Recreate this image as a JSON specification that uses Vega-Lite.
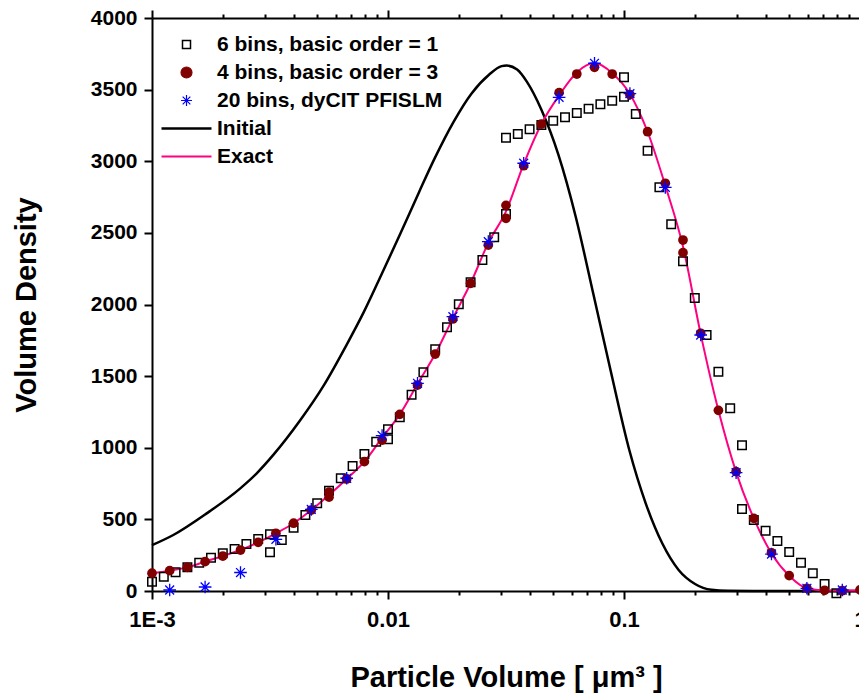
{
  "$schema": "https://vega.github.io/schema/vega-lite/v6.json",
  "width": 708,
  "height": 573,
  "autosize": {"type": "none"},
  "padding": {"left": 152, "top": 18, "right": 0, "bottom": 107},
  "background": "white",
  "config": {
    "view": {"stroke": null},
    "axis": {
      "domainColor": "black", "domainWidth": 2, "tickColor": "black", "tickWidth": 2,
      "labelFont": "Liberation Sans", "labelFontWeight": "bold", "labelColor": "black",
      "titleFont": "Liberation Sans", "titleFontWeight": "bold", "titleColor": "black",
      "grid": false
    }
  },
  "datasets": {
    "initial": [
      {"series": "Initial", "x": 0.001, "y": 320},
      {"series": "Initial", "x": 0.001231, "y": 391},
      {"series": "Initial", "x": 0.001705, "y": 542},
      {"series": "Initial", "x": 0.00236, "y": 715},
      {"series": "Initial", "x": 0.002772, "y": 820},
      {"series": "Initial", "x": 0.003266, "y": 950},
      {"series": "Initial", "x": 0.004238, "y": 1190},
      {"series": "Initial", "x": 0.00532, "y": 1430},
      {"series": "Initial", "x": 0.00666, "y": 1715},
      {"series": "Initial", "x": 0.007912, "y": 1950},
      {"series": "Initial", "x": 0.00948, "y": 2225},
      {"series": "Initial", "x": 0.011236, "y": 2488},
      {"series": "Initial", "x": 0.01355, "y": 2786},
      {"series": "Initial", "x": 0.015818, "y": 3025},
      {"series": "Initial", "x": 0.01899, "y": 3277},
      {"series": "Initial", "x": 0.02256, "y": 3472},
      {"series": "Initial", "x": 0.02679, "y": 3604},
      {"series": "Initial", "x": 0.03032, "y": 3664},
      {"series": "Initial", "x": 0.03181, "y": 3668},
      {"series": "Initial", "x": 0.03525, "y": 3640},
      {"series": "Initial", "x": 0.03880, "y": 3554},
      {"series": "Initial", "x": 0.04463, "y": 3361},
      {"series": "Initial", "x": 0.05271, "y": 3046},
      {"series": "Initial", "x": 0.06247, "y": 2611},
      {"series": "Initial", "x": 0.07403, "y": 2078},
      {"series": "Initial", "x": 0.0880, "y": 1530},
      {"series": "Initial", "x": 0.1053, "y": 984},
      {"series": "Initial", "x": 0.1236, "y": 612},
      {"series": "Initial", "x": 0.1452, "y": 333},
      {"series": "Initial", "x": 0.1704, "y": 147},
      {"series": "Initial", "x": 0.2000, "y": 49},
      {"series": "Initial", "x": 0.2350, "y": 8},
      {"series": "Initial", "x": 0.2750, "y": 1},
      {"series": "Initial", "x": 0.35, "y": 0},
      {"series": "Initial", "x": 1, "y": 0}
    ],
    "exact": [
      {"series": "Exact", "x": 0.001, "y": 124},
      {"series": "Exact", "x": 0.0011885, "y": 142},
      {"series": "Exact", "x": 0.0014125, "y": 165},
      {"series": "Exact", "x": 0.0016788, "y": 205},
      {"series": "Exact", "x": 0.0019953, "y": 244},
      {"series": "Exact", "x": 0.0023714, "y": 286},
      {"series": "Exact", "x": 0.0028184, "y": 340},
      {"series": "Exact", "x": 0.0033497, "y": 403},
      {"series": "Exact", "x": 0.0039811, "y": 473},
      {"series": "Exact", "x": 0.0047315, "y": 565},
      {"series": "Exact", "x": 0.0056234, "y": 670},
      {"series": "Exact", "x": 0.0066834, "y": 782},
      {"series": "Exact", "x": 0.0079433, "y": 903},
      {"series": "Exact", "x": 0.0094406, "y": 1070},
      {"series": "Exact", "x": 0.01122, "y": 1233},
      {"series": "Exact", "x": 0.013335, "y": 1445},
      {"series": "Exact", "x": 0.015849, "y": 1654},
      {"series": "Exact", "x": 0.018836, "y": 1905},
      {"series": "Exact", "x": 0.022387, "y": 2148},
      {"series": "Exact", "x": 0.026607, "y": 2430},
      {"series": "Exact", "x": 0.031623, "y": 2650},
      {"series": "Exact", "x": 0.037584, "y": 2980},
      {"series": "Exact", "x": 0.044668, "y": 3260},
      {"series": "Exact", "x": 0.053088, "y": 3460},
      {"series": "Exact", "x": 0.063096, "y": 3620},
      {"series": "Exact", "x": 0.074989, "y": 3685},
      {"series": "Exact", "x": 0.089125, "y": 3615},
      {"series": "Exact", "x": 0.10593, "y": 3470},
      {"series": "Exact", "x": 0.12589, "y": 3206},
      {"series": "Exact", "x": 0.14962, "y": 2830},
      {"series": "Exact", "x": 0.17783, "y": 2405},
      {"series": "Exact", "x": 0.21135, "y": 1793},
      {"series": "Exact", "x": 0.25119, "y": 1261},
      {"series": "Exact", "x": 0.29854, "y": 830},
      {"series": "Exact", "x": 0.3548, "y": 507},
      {"series": "Exact", "x": 0.4217, "y": 262},
      {"series": "Exact", "x": 0.50119, "y": 107},
      {"series": "Exact", "x": 0.59566, "y": 19},
      {"series": "Exact", "x": 0.70795, "y": 4},
      {"series": "Exact", "x": 0.8414, "y": 3},
      {"series": "Exact", "x": 1, "y": 3}
    ],
    "squares": [
      {"series": "6 bins, basic order = 1", "x": 0.001, "y": 65},
      {"series": "6 bins, basic order = 1", "x": 0.001122, "y": 100},
      {"series": "6 bins, basic order = 1", "x": 0.0012589, "y": 131},
      {"series": "6 bins, basic order = 1", "x": 0.0014125, "y": 165},
      {"series": "6 bins, basic order = 1", "x": 0.0015849, "y": 198},
      {"series": "6 bins, basic order = 1", "x": 0.0017783, "y": 232},
      {"series": "6 bins, basic order = 1", "x": 0.0019953, "y": 263},
      {"series": "6 bins, basic order = 1", "x": 0.0022387, "y": 293},
      {"series": "6 bins, basic order = 1", "x": 0.0025119, "y": 328},
      {"series": "6 bins, basic order = 1", "x": 0.0028184, "y": 363},
      {"series": "6 bins, basic order = 1", "x": 0.0031623, "y": 396},
      {"series": "6 bins, basic order = 1", "x": 0.0031623, "y": 270},
      {"series": "6 bins, basic order = 1", "x": 0.0035481, "y": 356},
      {"series": "6 bins, basic order = 1", "x": 0.0039811, "y": 442},
      {"series": "6 bins, basic order = 1", "x": 0.0044668, "y": 531},
      {"series": "6 bins, basic order = 1", "x": 0.0050119, "y": 612},
      {"series": "6 bins, basic order = 1", "x": 0.0056234, "y": 700},
      {"series": "6 bins, basic order = 1", "x": 0.0063096, "y": 787},
      {"series": "6 bins, basic order = 1", "x": 0.0070795, "y": 873},
      {"series": "6 bins, basic order = 1", "x": 0.0079433, "y": 956},
      {"series": "6 bins, basic order = 1", "x": 0.0089125, "y": 1042},
      {"series": "6 bins, basic order = 1", "x": 0.01, "y": 1129},
      {"series": "6 bins, basic order = 1", "x": 0.01, "y": 1059},
      {"series": "6 bins, basic order = 1", "x": 0.01122, "y": 1213},
      {"series": "6 bins, basic order = 1", "x": 0.012589, "y": 1370},
      {"series": "6 bins, basic order = 1", "x": 0.014125, "y": 1527},
      {"series": "6 bins, basic order = 1", "x": 0.015849, "y": 1687},
      {"series": "6 bins, basic order = 1", "x": 0.017783, "y": 1841},
      {"series": "6 bins, basic order = 1", "x": 0.019953, "y": 2001},
      {"series": "6 bins, basic order = 1", "x": 0.022387, "y": 2156},
      {"series": "6 bins, basic order = 1", "x": 0.025119, "y": 2311},
      {"series": "6 bins, basic order = 1", "x": 0.028184, "y": 2469},
      {"series": "6 bins, basic order = 1", "x": 0.031623, "y": 2632},
      {"series": "6 bins, basic order = 1", "x": 0.031623, "y": 3164},
      {"series": "6 bins, basic order = 1", "x": 0.035481, "y": 3190},
      {"series": "6 bins, basic order = 1", "x": 0.039811, "y": 3223},
      {"series": "6 bins, basic order = 1", "x": 0.044668, "y": 3253},
      {"series": "6 bins, basic order = 1", "x": 0.050119, "y": 3283},
      {"series": "6 bins, basic order = 1", "x": 0.056234, "y": 3307},
      {"series": "6 bins, basic order = 1", "x": 0.063096, "y": 3337},
      {"series": "6 bins, basic order = 1", "x": 0.070795, "y": 3367},
      {"series": "6 bins, basic order = 1", "x": 0.079433, "y": 3398},
      {"series": "6 bins, basic order = 1", "x": 0.089125, "y": 3423},
      {"series": "6 bins, basic order = 1", "x": 0.1, "y": 3451},
      {"series": "6 bins, basic order = 1", "x": 0.1, "y": 3586},
      {"series": "6 bins, basic order = 1", "x": 0.1122, "y": 3330},
      {"series": "6 bins, basic order = 1", "x": 0.12589, "y": 3074},
      {"series": "6 bins, basic order = 1", "x": 0.14125, "y": 2818},
      {"series": "6 bins, basic order = 1", "x": 0.15849, "y": 2560},
      {"series": "6 bins, basic order = 1", "x": 0.17783, "y": 2302},
      {"series": "6 bins, basic order = 1", "x": 0.19953, "y": 2045},
      {"series": "6 bins, basic order = 1", "x": 0.22387, "y": 1787},
      {"series": "6 bins, basic order = 1", "x": 0.25119, "y": 1531},
      {"series": "6 bins, basic order = 1", "x": 0.28184, "y": 1275},
      {"series": "6 bins, basic order = 1", "x": 0.31623, "y": 1017},
      {"series": "6 bins, basic order = 1", "x": 0.31623, "y": 572},
      {"series": "6 bins, basic order = 1", "x": 0.35481, "y": 496},
      {"series": "6 bins, basic order = 1", "x": 0.39811, "y": 421},
      {"series": "6 bins, basic order = 1", "x": 0.44668, "y": 349},
      {"series": "6 bins, basic order = 1", "x": 0.50119, "y": 272},
      {"series": "6 bins, basic order = 1", "x": 0.56234, "y": 198},
      {"series": "6 bins, basic order = 1", "x": 0.63096, "y": 124},
      {"series": "6 bins, basic order = 1", "x": 0.70795, "y": 49},
      {"series": "6 bins, basic order = 1", "x": 0.7943, "y": -15}
    ],
    "circles": [
      {"series": "4 bins, basic order = 3", "x": 0.001, "y": 124},
      {"series": "4 bins, basic order = 3", "x": 0.0011885, "y": 142},
      {"series": "4 bins, basic order = 3", "x": 0.0014125, "y": 165},
      {"series": "4 bins, basic order = 3", "x": 0.0016788, "y": 205},
      {"series": "4 bins, basic order = 3", "x": 0.0019953, "y": 244},
      {"series": "4 bins, basic order = 3", "x": 0.0023714, "y": 286},
      {"series": "4 bins, basic order = 3", "x": 0.0028184, "y": 340},
      {"series": "4 bins, basic order = 3", "x": 0.0033497, "y": 403},
      {"series": "4 bins, basic order = 3", "x": 0.0039811, "y": 473},
      {"series": "4 bins, basic order = 3", "x": 0.0047315, "y": 565},
      {"series": "4 bins, basic order = 3", "x": 0.0056234, "y": 690},
      {"series": "4 bins, basic order = 3", "x": 0.0056234, "y": 655},
      {"series": "4 bins, basic order = 3", "x": 0.0066834, "y": 782},
      {"series": "4 bins, basic order = 3", "x": 0.0079433, "y": 903},
      {"series": "4 bins, basic order = 3", "x": 0.0094406, "y": 1054},
      {"series": "4 bins, basic order = 3", "x": 0.01122, "y": 1233},
      {"series": "4 bins, basic order = 3", "x": 0.013335, "y": 1438},
      {"series": "4 bins, basic order = 3", "x": 0.015849, "y": 1654},
      {"series": "4 bins, basic order = 3", "x": 0.018836, "y": 1899},
      {"series": "4 bins, basic order = 3", "x": 0.022387, "y": 2148},
      {"series": "4 bins, basic order = 3", "x": 0.026607, "y": 2415},
      {"series": "4 bins, basic order = 3", "x": 0.031623, "y": 2692},
      {"series": "4 bins, basic order = 3", "x": 0.031623, "y": 2602},
      {"series": "4 bins, basic order = 3", "x": 0.037584, "y": 2969},
      {"series": "4 bins, basic order = 3", "x": 0.044668, "y": 3260},
      {"series": "4 bins, basic order = 3", "x": 0.053088, "y": 3479},
      {"series": "4 bins, basic order = 3", "x": 0.063096, "y": 3609},
      {"series": "4 bins, basic order = 3", "x": 0.074989, "y": 3656},
      {"series": "4 bins, basic order = 3", "x": 0.089125, "y": 3609},
      {"series": "4 bins, basic order = 3", "x": 0.10593, "y": 3465},
      {"series": "4 bins, basic order = 3", "x": 0.12589, "y": 3206},
      {"series": "4 bins, basic order = 3", "x": 0.14962, "y": 2846},
      {"series": "4 bins, basic order = 3", "x": 0.17783, "y": 2450},
      {"series": "4 bins, basic order = 3", "x": 0.17783, "y": 2362},
      {"series": "4 bins, basic order = 3", "x": 0.21135, "y": 1799},
      {"series": "4 bins, basic order = 3", "x": 0.25119, "y": 1261},
      {"series": "4 bins, basic order = 3", "x": 0.29854, "y": 833},
      {"series": "4 bins, basic order = 3", "x": 0.3548, "y": 507},
      {"series": "4 bins, basic order = 3", "x": 0.4217, "y": 267},
      {"series": "4 bins, basic order = 3", "x": 0.50119, "y": 107},
      {"series": "4 bins, basic order = 3", "x": 0.59566, "y": 19},
      {"series": "4 bins, basic order = 3", "x": 0.70795, "y": 5},
      {"series": "4 bins, basic order = 3", "x": 0.8414, "y": 2},
      {"series": "4 bins, basic order = 3", "x": 1, "y": 8}
    ],
    "stars": [
      {"series": "20 bins, dyCIT PFISLM", "x": 0.0011885, "y": 7},
      {"series": "20 bins, dyCIT PFISLM", "x": 0.0016788, "y": 28},
      {"series": "20 bins, dyCIT PFISLM", "x": 0.0023714, "y": 129},
      {"series": "20 bins, dyCIT PFISLM", "x": 0.0033497, "y": 361},
      {"series": "20 bins, dyCIT PFISLM", "x": 0.0047315, "y": 570},
      {"series": "20 bins, dyCIT PFISLM", "x": 0.0066834, "y": 787},
      {"series": "20 bins, dyCIT PFISLM", "x": 0.0094406, "y": 1085},
      {"series": "20 bins, dyCIT PFISLM", "x": 0.013335, "y": 1450},
      {"series": "20 bins, dyCIT PFISLM", "x": 0.018836, "y": 1915},
      {"series": "20 bins, dyCIT PFISLM", "x": 0.026607, "y": 2439},
      {"series": "20 bins, dyCIT PFISLM", "x": 0.037584, "y": 2986},
      {"series": "20 bins, dyCIT PFISLM", "x": 0.053088, "y": 3446},
      {"series": "20 bins, dyCIT PFISLM", "x": 0.074989, "y": 3684},
      {"series": "20 bins, dyCIT PFISLM", "x": 0.10593, "y": 3472},
      {"series": "20 bins, dyCIT PFISLM", "x": 0.14962, "y": 2818},
      {"series": "20 bins, dyCIT PFISLM", "x": 0.21135, "y": 1787},
      {"series": "20 bins, dyCIT PFISLM", "x": 0.29854, "y": 826},
      {"series": "20 bins, dyCIT PFISLM", "x": 0.4217, "y": 258},
      {"series": "20 bins, dyCIT PFISLM", "x": 0.59566, "y": 19},
      {"series": "20 bins, dyCIT PFISLM", "x": 0.8414, "y": 7}
    ]
  },
  "resolve": {"axis": {"x": "independent"}},
  "layer": [
    {
      "data": {"name": "initial"},
      "mark": {"type": "line", "strokeWidth": 2.5, "interpolate": "monotone"},
      "encoding": {
        "x": {"field": "x", "type": "quantitative",
          "scale": {"type": "log", "domain": [0.001, 1], "nice": false},
          "axis": {
            "orient": "bottom",
            "values": [0.001,0.002,0.003,0.004,0.005,0.006,0.007,0.008,0.009,0.01,0.02,0.03,0.04,0.05,0.06,0.07,0.08,0.09,0.1,0.2,0.3,0.4,0.5,0.6,0.7,0.8,0.9,1],
            "labelExpr": "datum.value === 0.001 ? '1E-3' : datum.value === 0.01 ? '0.01' : datum.value === 0.1 ? '0.1' : datum.value === 1 ? '1' : ''",
            "tickSize": {"condition": {"test": "indexof([0.001,0.01,0.1,1], datum.value) >= 0", "value": 8}, "value": 4},
            "labelFlush": false, "labelOverlap": false,
            "labelFontSize": 22, "labelPadding": 10,
            "title": "Particle Volume [ μm³ ]", "titleFontSize": 29, "titlePadding": 33
          }
        },
        "y": {"field": "y", "type": "quantitative",
          "scale": {"domain": [0, 4000], "nice": false, "zero": true},
          "axis": {
            "values": [0,250,500,750,1000,1250,1500,1750,2000,2250,2500,2750,3000,3250,3500,3750,4000],
            "format": "d",
            "labelExpr": "datum.value % 500 === 0 ? datum.label : ''",
            "tickSize": {"condition": {"test": "datum.value % 500 === 0", "value": 8}, "value": 4},
            "labelFontSize": 21, "labelPadding": 7,
            "title": "Volume Density", "titleFontSize": 29, "titlePadding": 49
          }
        },
        "color": {"field": "series", "type": "nominal",
          "scale": {
            "domain": ["6 bins, basic order = 1", "4 bins, basic order = 3", "20 bins, dyCIT PFISLM", "Initial", "Exact"],
            "range": ["#000000", "#800000", "#0000ff", "#000000", "#ff0080"]
          },
          "legend": {
            "orient": "none", "legendX": 24, "legendY": 16, "title": null, "padding": 0,
            "labelFont": "Liberation Sans", "labelFontSize": 21, "labelFontWeight": "bold", "labelColor": "black",
            "labelLimit": 0,
            "symbolSize": 100, "labelOffset": 20, "rowPadding": 6,
            "encode": {"symbols": {"update": {
              "shape": {"signal": "datum.value === 'Initial' || datum.value === 'Exact' ? 'M-5,0L5,0' : datum.value === '4 bins, basic order = 3' ? 'circle' : datum.value === '20 bins, dyCIT PFISLM' ? 'M-1,0L1,0M0,-1L0,1M-0.7,-0.7L0.7,0.7M-0.7,0.7L0.7,-0.7' : 'square'"},
              "fill": {"signal": "datum.value === '4 bins, basic order = 3' ? '#800000' : 'transparent'"},
              "fillOpacity": {"signal": "datum.value === '4 bins, basic order = 3' ? 1 : 0"},
              "stroke": {"signal": "datum.value === '4 bins, basic order = 3' ? '#800000' : datum.value === '20 bins, dyCIT PFISLM' ? '#0000ff' : datum.value === 'Exact' ? '#ff0080' : '#000000'"},
              "strokeWidth": {"signal": "datum.value === 'Initial' ? 2.5 : datum.value === 'Exact' ? 2 : datum.value === '6 bins, basic order = 1' ? 1.5 : 1.2"},
              "size": {"signal": "datum.value === '6 bins, basic order = 1' ? 64 : datum.value === 'Initial' || datum.value === 'Exact' ? 100 : 120"},
              "opacity": {"value": 1}
            }}}
          }
        }
      }
    },
    {
      "data": {"name": "exact"},
      "mark": {"type": "line", "strokeWidth": 2, "interpolate": "monotone"},
      "encoding": {
        "x": {"field": "x", "type": "quantitative",
          "axis": {
            "orient": "top",
            "values": [0.001,0.002,0.003,0.004,0.005,0.006,0.007,0.008,0.009,0.01,0.02,0.03,0.04,0.05,0.06,0.07,0.08,0.09,0.1,0.2,0.3,0.4,0.5,0.6,0.7,0.8,0.9,1],
            "labels": false, "title": null,
            "tickSize": {"condition": {"test": "indexof([0.001,0.01,0.1,1], datum.value) >= 0", "value": 8}, "value": 4}
          }
        },
        "y": {"field": "y", "type": "quantitative"},
        "color": {"field": "series", "type": "nominal"}
      }
    },
    {
      "data": {"name": "squares"},
      "mark": {"type": "point", "shape": "square", "filled": false, "size": 72, "strokeWidth": 1.5, "opacity": 1},
      "encoding": {
        "x": {"field": "x", "type": "quantitative", "axis": null},
        "y": {"field": "y", "type": "quantitative"},
        "color": {"field": "series", "type": "nominal"}
      }
    },
    {
      "data": {"name": "circles"},
      "mark": {"type": "point", "shape": "circle", "filled": true, "size": 95, "opacity": 1},
      "encoding": {
        "x": {"field": "x", "type": "quantitative", "axis": null},
        "y": {"field": "y", "type": "quantitative"},
        "color": {"field": "series", "type": "nominal"}
      }
    },
    {
      "data": {"name": "stars"},
      "mark": {"type": "point", "shape": "M-1,0L1,0M0,-1L0,1M-0.7,-0.7L0.7,0.7M-0.7,0.7L0.7,-0.7", "filled": false, "size": 160, "strokeWidth": 1.3, "opacity": 1},
      "encoding": {
        "x": {"field": "x", "type": "quantitative", "axis": null},
        "y": {"field": "y", "type": "quantitative"},
        "color": {"field": "series", "type": "nominal"}
      }
    }
  ]
}
